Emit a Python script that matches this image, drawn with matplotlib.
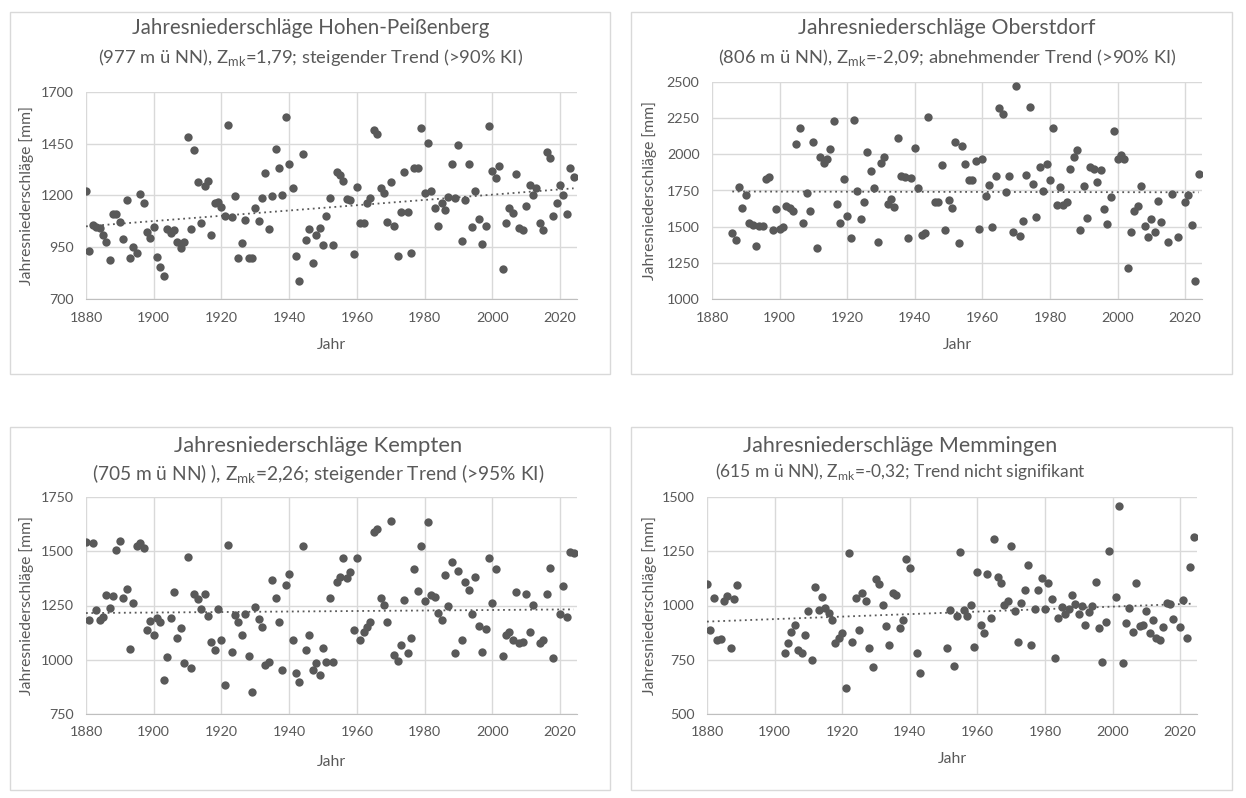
import numpy as np
import matplotlib
matplotlib.use("Agg")
import matplotlib.pyplot as plt
from matplotlib.patches import Rectangle

plt.rcParams['font.family'] = ['Lato', 'DejaVu Sans']

# Hohen-Peissenberg, 1880-2024
hp_years = list(range(1880, 2025))
hp_values = [1222, 931, 1059, 1048, 1043, 1011, 977, 886, 1112, 1109,
             1072, 990, 1179, 899, 953, 920, 1208, 1163, 1022, 996,
             1049, 905, 857, 809, 1040, 1020, 1033, 977, 947, 977,
             1482, 1040, 1420, 1266, 1067, 1246, 1271, 1009, 1165, 1170,
             1146, 1102, 1540, 1097, 1198, 900, 972, 1083, 899, 899,
             1142, 1078, 1189, 1309, 1040, 1198, 1424, 1333, 1203, 1578,
             1352, 1237, 910, 787, 1400, 987, 1038, 873, 1008, 1045,
             963, 1102, 1189, 963, 1314, 1298, 1271, 1182, 1179, 915,
             1242, 1065, 1069, 1163, 1186, 1517, 1498, 1234, 1210, 1073,
             1267, 1054, 910, 1121, 1314, 1121, 920, 1333, 1333, 1525,
             1211, 1453, 1221, 1141, 1054, 1162, 1131, 1192, 1352, 1187,
             1444, 982, 1179, 1352, 1049, 1224, 1088, 968, 1051, 1535,
             1319, 1285, 1343, 843, 1069, 1139, 1117, 1304, 1045, 1035,
             1150, 1250, 1203, 1237, 1065, 1035, 1412, 1381, 1102, 1165,
             1253, 1203, 1109, 1333, 1290]

# Oberstdorf
ob_years = [1886, 1887, 1888, 1889, 1890, 1891, 1892, 1893, 1894, 1895,
            1896, 1897, 1898, 1899, 1900, 1901, 1902, 1903, 1904, 1905,
            1906, 1907, 1908, 1909, 1910, 1911, 1912, 1913, 1914, 1915,
            1916, 1917, 1918, 1919, 1920, 1921, 1922, 1923, 1924, 1925,
            1926, 1927, 1928, 1929, 1930, 1931, 1932, 1933, 1934, 1935,
            1936, 1937, 1938, 1939, 1940, 1941, 1942, 1943, 1944, 1946,
            1947, 1948, 1949, 1950, 1951, 1952, 1953, 1954, 1955, 1956,
            1957, 1958, 1959, 1960, 1961, 1962, 1963, 1964, 1965, 1966,
            1967, 1968, 1969, 1970, 1971, 1972, 1973, 1974, 1975, 1976,
            1977, 1978, 1979, 1980, 1981, 1982, 1983, 1984, 1985, 1986,
            1987, 1988, 1989, 1990, 1991, 1992, 1993, 1994, 1995, 1996,
            1997, 1998, 1999, 2000, 2001, 2002, 2003, 2004, 2005, 2006,
            2007, 2008, 2009, 2010, 2011, 2012, 2013, 2015, 2016, 2018,
            2020, 2021, 2022, 2023, 2024]
ob_values = [1453, 1410, 1775, 1630, 1720, 1525, 1513, 1368, 1502, 1506,
             1831, 1844, 1476, 1623, 1481, 1495, 1644, 1626, 1607, 2072,
             2183, 1527, 1734, 1610, 2084, 1354, 1982, 1943, 1969, 2038,
             2231, 1658, 1527, 1831, 1575, 1423, 2238, 1748, 1554, 1672,
             2017, 1886, 1768, 1396, 1941, 1982, 1658, 1692, 1633, 2113,
             1851, 1844, 1423, 1837, 2044, 1768, 1444, 1458, 2258, 1669,
             1669, 1927, 1479, 1686, 1626, 2086, 1389, 2056, 1934, 1824,
             1824, 1955, 1485, 1969, 1713, 1787, 1495, 1851, 2323, 2279,
             1741, 1851, 1465, 2472, 1437, 1541, 1856, 2327, 1796, 1568,
             1911, 1748, 1934, 1824, 2183, 1651, 1775, 1651, 1672, 1900,
             1982, 2031, 1479, 1782, 1561, 1913, 1900, 1810, 1893, 1623,
             1520, 1706, 2162, 1969, 1998, 1969, 1216, 1465, 1610, 1644,
             1782, 1506, 1426, 1554, 1465, 1679, 1534, 1396, 1725, 1426,
             1669, 1720, 1513, 1127, 1865]

# Kempten
ke_years = [1880, 1881, 1882, 1883, 1884, 1885, 1886, 1887, 1888, 1889,
            1890, 1891, 1892, 1893, 1894, 1895, 1896, 1897, 1898, 1899,
            1900, 1901, 1902, 1903, 1904, 1905, 1906, 1907, 1908, 1909,
            1910, 1911, 1912, 1913, 1914, 1915, 1916, 1917, 1918, 1919,
            1920, 1921, 1922, 1923, 1924, 1925, 1926, 1927, 1928, 1929,
            1930, 1931, 1932, 1933, 1934, 1935, 1936, 1937, 1938, 1939,
            1940, 1941, 1942, 1943, 1944, 1945, 1946, 1947, 1948, 1949,
            1950, 1951, 1952, 1953, 1954, 1955, 1956, 1957, 1958, 1959,
            1960, 1961, 1962, 1963, 1964, 1965, 1966, 1967, 1968, 1969,
            1970, 1971, 1972, 1973, 1974, 1975, 1976, 1977, 1978, 1979,
            1980, 1981, 1982, 1983, 1984, 1985, 1986, 1987, 1988, 1989,
            1990, 1991, 1992, 1993, 1994, 1995, 1996, 1997, 1998, 1999,
            2000, 2001, 2003, 2004, 2005, 2006, 2007, 2008, 2009, 2010,
            2011, 2012, 2014, 2015, 2016, 2017, 2018, 2020, 2021, 2022,
            2023, 2024]
ke_values = [1543, 1185, 1540, 1231, 1185, 1197, 1300, 1237, 1295, 1507,
             1548, 1286, 1324, 1050, 1263, 1526, 1537, 1516, 1135, 1180,
             1116, 1194, 1176, 905, 1011, 1194, 1314, 1098, 1148, 983,
             1474, 960, 1304, 1282, 1236, 1304, 1203, 1084, 1047, 1236,
             1093, 882, 1530, 1038, 1208, 1176, 1112, 1213, 1015, 851,
             1245, 1190, 1153, 978, 988, 1369, 1286, 1176, 955, 1346,
             1396, 1093, 937, 896, 1525, 1043, 1116, 951, 983, 928,
             1052, 988, 1286, 988, 1360, 1383, 1470, 1378, 1406, 1139,
             1470, 1089, 1130, 1153, 1176, 1589, 1603, 1286, 1254, 1176,
             1640, 1024, 992, 1066, 1277, 1029, 1098, 1419, 1318, 1525,
             1272, 1635, 1300, 1291, 1217, 1185, 1392, 1249, 1451, 1033,
             1410, 1089, 1360, 1323, 1213, 1383, 1157, 1038, 1144, 1470,
             1263, 1419, 1015, 1112, 1130, 1093, 1314, 1075, 1084, 1304,
             1130, 1254, 1075, 1093, 1304, 1424, 1006, 1213, 1341, 1199,
             1497, 1493]

# Memmingen
me_years = [1880, 1881, 1882, 1883, 1884, 1885, 1886, 1887, 1888, 1889,
            1903, 1904, 1905, 1906, 1907, 1908, 1909, 1910, 1911, 1912,
            1913, 1914, 1915, 1916, 1917, 1918, 1919, 1920, 1921, 1922,
            1923, 1924, 1925, 1926, 1927, 1928, 1929, 1930, 1931, 1932,
            1933, 1934, 1935, 1936, 1937, 1938, 1939, 1940, 1942, 1943,
            1951, 1952, 1953, 1954, 1955, 1956, 1957, 1958, 1959, 1960,
            1961, 1962, 1963, 1964, 1965, 1966, 1967, 1968, 1969, 1970,
            1971, 1972, 1973, 1974, 1975, 1976, 1977, 1978, 1979, 1980,
            1981, 1982, 1983, 1984, 1985, 1986, 1987, 1988, 1989, 1990,
            1991, 1992, 1993, 1994, 1995, 1996, 1997, 1998, 1999, 2001,
            2002, 2003, 2004, 2005, 2006, 2007, 2008, 2009, 2010, 2011,
            2012, 2013, 2014, 2015, 2016, 2017, 2018, 2020, 2021, 2022,
            2023, 2024]
me_values = [1100, 888, 1036, 839, 846, 1022, 1044, 802, 1032, 1096,
             783, 825, 880, 912, 797, 783, 866, 976, 747, 1087,
             981, 1041, 990, 967, 935, 825, 852, 875, 618, 1243,
             834, 1036, 888, 1059, 1022, 806, 715, 1123, 1100, 1004,
             907, 816, 1059, 1050, 898, 935, 1215, 1174, 779, 687,
             806, 981, 719, 953, 1247, 981, 953, 1004, 811, 1156,
             912, 871, 1146, 944, 1307, 1133, 1105, 1004, 1022, 1275,
             976, 834, 1013, 1073, 1188, 816, 986, 1073, 1128, 986,
             1105, 1032, 756, 944, 995, 963, 986, 1050, 1009, 963,
             999, 912, 972, 999, 1110, 898, 738, 926, 1252, 1041,
             1459, 734, 921, 990, 880, 1105, 907, 912, 976, 875,
             935, 852, 843, 903, 1013, 1009, 940, 903, 1027, 852,
             1178, 1316]

titles = ["Jahresniederschläge Hohen-Peißenberg",
          "Jahresniederschläge Oberstdorf",
          "Jahresniederschläge Kempten",
          "Jahresniederschläge Memmingen"]
subtitles = [r"(977 m ü NN), Z$_\mathregular{mk}$=1,79; steigender Trend (>90% KI)",
             r"(806 m ü NN), Z$_\mathregular{mk}$=-2,09; abnehmender Trend (>90% KI)",
             r"(705 m ü NN) ), Z$_\mathregular{mk}$=2,26; steigender Trend (>95% KI)",
             r"(615 m ü NN), Z$_\mathregular{mk}$=-0,32; Trend nicht signifikant"]
y_ranges = [(700, 1700, 250), (1000, 2500, 250), (750, 1750, 250), (500, 1500, 250)]

W, H = 1246, 798
fig = plt.figure(figsize=(W / 100, H / 100), dpi=100)
TXT = '#595959'
DOT = '#595959'
GRID = '#d9d9d9'


def fx(px):
    return px / W


def fy(py):
    return 1 - py / H


# layout in pixels: box, plot area, title/subtitle positions, label positions
layout = [
    dict(box=(10, 12, 610, 374), plot=(86, 92, 577, 299), tx=311, ty=28, sy=58, ts=14.8, ss=13.2, ylx=27, xly=345),
    dict(box=(631, 12, 1232, 374), plot=(712, 82, 1202, 299), tx=947, ty=28, sy=58, ts=15.3, ss=13.2, ylx=650, xly=345),
    dict(box=(10, 427, 610, 790), plot=(86, 497, 577, 714), tx=318, ty=446, sy=474, ts=15.8, ss=13.8, ylx=27, xly=762),
    dict(box=(631, 427, 1232, 790), plot=(707, 497, 1197, 714), tx=900, ty=446, sy=472, ts=15.5, ss=12.5, ylx=650, xly=759),
]
data = [(hp_years, hp_values), (ob_years, ob_values), (ke_years, ke_values), (me_years, me_values)]

for i in range(4):
    L = layout[i]
    years, vals = data[i]
    bx0, by0, bx1, by1 = L['box']
    fig.add_artist(Rectangle((fx(bx0), fy(by1)), fx(bx1 - bx0), (by1 - by0) / H,
                             transform=fig.transFigure, fill=False, edgecolor=GRID, lw=1))
    px0, py0, px1, py1 = L['plot']
    ax = fig.add_axes([fx(px0), fy(py1), fx(px1 - px0), (py1 - py0) / H])
    x = np.array(years)
    y = np.array(vals)
    ax.scatter(x, y, s=36, color=DOT, zorder=3, linewidths=0)
    # linear trendline over the data range
    k, d = np.polyfit(x, y, 1)
    xt = np.array([x.min(), x.max()])
    ax.plot(xt, k * xt + d, color=TXT, lw=1.3, linestyle=(0, (1, 2)), zorder=2)
    lo, hi, step = y_ranges[i]
    ax.set_ylim(lo, hi)
    ax.set_yticks(np.arange(lo, hi + 1, step))
    ax.set_xlim(1880, 2025)
    ax.set_xticks(np.arange(1880, 2021, 20))
    ax.grid(True, color=GRID, lw=1)
    ax.set_axisbelow(True)
    for s in ['top', 'right', 'left']:
        ax.spines[s].set_visible(False)
    ax.spines['bottom'].set_color('#bfbfbf')
    ax.tick_params(length=0, labelsize=10.3, labelcolor=TXT, pad=9)
    fig.text(fx(L['tx']), fy(L['ty']), titles[i], ha='center', va='center', fontsize=L['ts'], color=TXT)
    fig.text(fx(L['tx']), fy(L['sy']), subtitles[i], ha='center', va='center', fontsize=L['ss'], color=TXT)
    fig.text(fx(L['ylx']), fy((py0 + py1) / 2), "Jahresniederschläge [mm]", rotation=90,
             ha='center', va='center', fontsize=11.3, color=TXT)
    fig.text(fx((px0 + px1) / 2), fy(L['xly']), "Jahr", ha='center', va='center', fontsize=11.3, color=TXT)

fig.savefig('out.png', dpi=100)
